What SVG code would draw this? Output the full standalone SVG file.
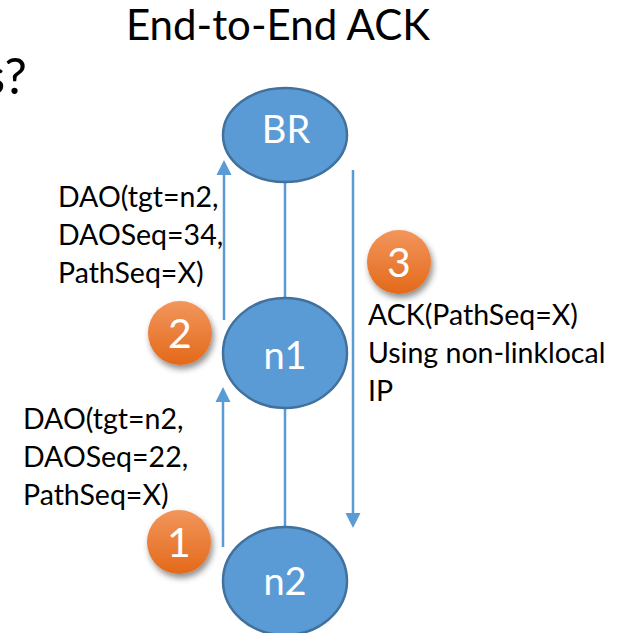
<svg xmlns="http://www.w3.org/2000/svg" width="618" height="633" viewBox="0 0 618 633">
  <style>
    .txt { font-family: Lato, "Open Sans", "Liberation Sans", sans-serif; fill: #000; }
    .lbl { font-size: 28.5px; }
    .node { fill: #5B9BD5; stroke: #41719C; stroke-width: 2.5; }
    .ntxt { font-family: Lato, "Open Sans", "Liberation Sans", sans-serif; font-size: 38px; fill: #fff; text-anchor: middle; }
    .edge { stroke: #5B9BD5; stroke-width: 2.5; fill: none; }
    .badge { fill: url(#orange); filter: url(#shadow); }
    .btxt { font-family: Lato, "Open Sans", "Liberation Sans", sans-serif; font-size: 41px; fill: #fff; text-anchor: middle; }
  </style>
  <defs>
    <linearGradient id="orange" x1="0" y1="0" x2="0" y2="1">
      <stop offset="0" stop-color="#F2965C"/>
      <stop offset="1" stop-color="#E3691A"/>
    </linearGradient>
    <filter id="shadow" x="-30%" y="-30%" width="170%" height="170%">
      <feDropShadow dx="2" dy="4" stdDeviation="3" flood-color="#000" flood-opacity="0.45"/>
    </filter>
    <marker id="head" markerUnits="userSpaceOnUse" markerWidth="16" markerHeight="16" refX="0" refY="8" orient="auto">
      <path d="M0,0.5 L15,8 L0,15.5 z" fill="#5B9BD5"/>
    </marker>
  </defs>

  <rect width="618" height="633" fill="#fff"/>

  <!-- slide heading and clipped text at the left edge -->
  <text class="txt" x="278" y="40" font-size="42" text-anchor="middle">End-to-End ACK</text>
  <text class="txt" x="27" y="94" font-size="50" text-anchor="end">s?</text>

  <!-- links and message arrows -->
  <g id="connectors">
    <line class="edge" x1="285" y1="182" x2="285" y2="298"/>
    <line class="edge" x1="285" y1="408" x2="285" y2="527"/>
    <line class="edge" x1="224" y1="320" x2="224" y2="175" marker-end="url(#head)"/>
    <line class="edge" x1="223" y1="547" x2="223" y2="402" marker-end="url(#head)"/>
    <line class="edge" x1="353" y1="170" x2="353" y2="513" marker-end="url(#head)"/>
  </g>

  <g id="node-BR">
    <ellipse class="node" cx="285" cy="135" rx="62" ry="47"/>
    <text class="ntxt" x="286" y="143">BR</text>
  </g>
  <g id="node-n1">
    <ellipse class="node" cx="285" cy="353" rx="62" ry="55"/>
    <text class="ntxt" x="285" y="369">n1</text>
  </g>
  <g id="node-n2">
    <ellipse class="node" cx="285" cy="581" rx="62" ry="54"/>
    <text class="ntxt" x="285" y="595">n2</text>
  </g>

  <!-- step badges -->
  <g id="step-1">
    <circle class="badge" cx="179" cy="542" r="32"/>
    <text class="btxt" x="179" y="557">1</text>
  </g>
  <g id="step-2">
    <circle class="badge" cx="180" cy="333" r="32"/>
    <text class="btxt" x="180" y="348">2</text>
  </g>
  <g id="step-3">
    <circle class="badge" cx="399" cy="262" r="32"/>
    <text class="btxt" x="399" y="277">3</text>
  </g>

  <!-- message labels -->
  <g id="label-dao-n1">
    <text class="txt lbl" x="58" y="207">DAO(tgt=n2,</text>
    <text class="txt lbl" x="58" y="245">DAOSeq=34,</text>
    <text class="txt lbl" x="58" y="283">PathSeq=X)</text>
  </g>
  <g id="label-dao-n2">
    <text class="txt lbl" x="23" y="429">DAO(tgt=n2,</text>
    <text class="txt lbl" x="23" y="467">DAOSeq=22,</text>
    <text class="txt lbl" x="23" y="505">PathSeq=X)</text>
  </g>
  <g id="label-ack">
    <text class="txt lbl" x="368" y="325">ACK(PathSeq=X)</text>
    <text class="txt lbl" x="368" y="363">Using non-linklocal</text>
    <text class="txt lbl" x="368" y="401">IP</text>
  </g>
</svg>
